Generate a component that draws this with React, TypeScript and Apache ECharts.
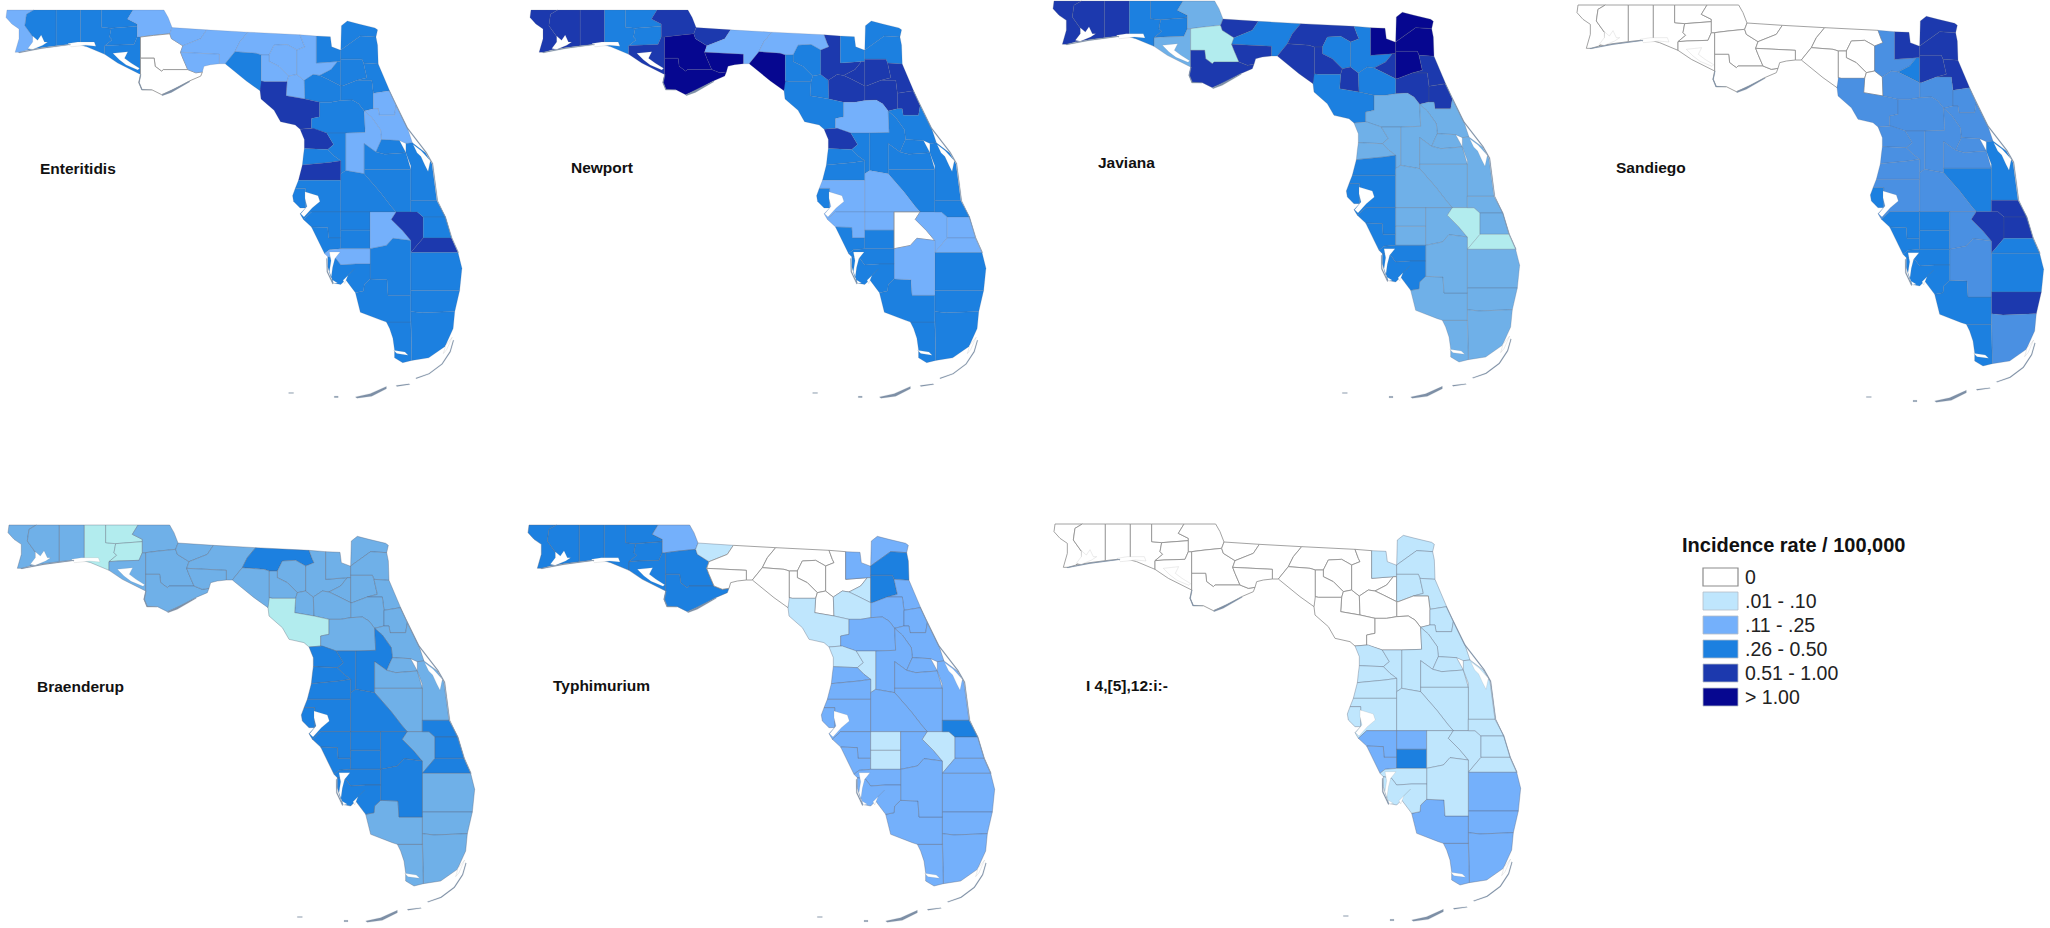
import React, { useEffect, useRef } from "react";
import * as echarts from "echarts";

// ---------- county rate classes: 0 = 0, 1 = .01-.10, 2 = .11-.25, 3 = .26-.50, 4 = .51-1.00, 5 = >1.00
const countyNames = [
  "Escambia","Santa Rosa","Okaloosa","Walton","Holmes","Washington","Bay","Jackson","Calhoun-Liberty","Gulf-Franklin",
  "Gadsden","Leon","Wakulla","Madison-Hamilton","Taylor","Suwannee","Lafayette","Gilchrist","Columbia","Baker",
  "Union-Bradford","Nassau","Duval","Clay","St. Johns","Putnam","Flagler","Alachua","Dixie-Levy","Marion",
  "Volusia","Lake","Seminole","Orange","Brevard","Osceola","Hernando","Sumter","Pasco","Hillsborough North",
  "Hillsborough","Polk","Manatee","Sarasota","Hardee","DeSoto","Highlands","Okeechobee","Indian River","St. Lucie",
  "Martin","Palm Beach","Broward","Dade","Monroe","Collier","Hendry","Charlotte","Lee","Pinellas",
];
const enteritidis = [2,3,3,3,3,3,3,2,0,0, 2,2,2,2,3,2,2,2,2,3, 3,3,3,3,3,3,2,3,4,3, 2,2,3,3,3,3,4,3,3,4, 3,3,3,3,3,3,2,4,3,3, 4,3,3,3,3,3,3,2,3,3];
const newport =     [4,4,4,3,3,3,4,4,5,5, 4,2,5,2,5,3,3,3,4,3, 4,3,3,4,4,4,4,4,3,2, 3,3,3,3,3,3,4,3,3,3, 2,2,2,3,2,3,0,2,3,2, 2,3,3,3,3,3,2,3,3,3];
const javiana =     [4,4,4,3,3,3,2,2,1,4, 4,3,4,4,4,3,4,4,3,5, 4,5,5,5,4,4,4,3,3,2, 2,2,2,2,2,2,2,2,2,3, 3,2,3,3,2,2,2,1,2,2, 1,2,2,2,2,2,2,3,3,3];
const sandiego =    [0,0,0,0,0,0,0,0,0,0, 0,0,0,0,0,0,0,0,2,4, 3,4,4,4,4,2,2,2,2,2, 2,2,2,2,3,3,2,2,2,2, 2,2,3,3,3,3,2,4,4,4, 3,3,4,2,3,3,2,3,3,3];
const braenderup =  [2,2,2,1,1,1,2,2,2,2, 2,2,2,3,2,2,2,2,2,2, 2,2,2,2,2,2,2,2,1,2, 2,3,2,2,2,2,3,3,3,3, 3,3,3,3,3,3,3,2,3,3, 3,2,2,2,2,2,3,3,3,3];
const typhimurium = [3,3,3,3,3,3,3,2,3,3, 1,0,0,0,0,0,0,0,0,2, 1,2,3,3,2,2,2,1,1,2, 2,2,2,2,2,2,1,1,2,2, 2,2,2,2,1,1,2,1,3,2, 2,2,2,2,2,2,2,2,2,2];
const i4512 =       [0,0,0,0,0,0,0,0,0,0, 0,0,0,0,0,0,0,0,0,1, 0,1,1,1,1,0,1,0,0,0, 1,1,1,1,1,1,1,1,1,1, 1,1,2,2,2,3,1,1,1,1, 1,2,2,2,2,2,1,1,1,1];

// ---------- legend
const legendTitle = "Incidence rate / 100,000";
const legendLabels = ["0", ".01 - .10", ".11 - .25", ".26 - 0.50", "0.51 - 1.00", "> 1.00"];
const classColors = ["#ffffff", "#bfe6fd", "#74b0fb", "#1c80e0", "#1c39ae", "#060790"];

// ---------- hand-traced simplified county outlines (image units)
const outlines: Record<string, string> = {
  "Escambia": "45,42 127,42 105,55 100,90 125,125 128,150 108,165 85,172 70,172 82,130 82,100 60,85 42,65",
  "Santa Rosa": "127,42 196,42 196,152 150,158 108,165 128,150 125,125 100,90 105,55",
  "Okaloosa": "196,42 271,42 271,130 271,150 240,147 196,152",
  "Walton": "271,42 335,42 335,95 365,98 360,125 368,133 345,152 345,178 290,155 271,150",
  "Holmes": "335,42 432,42 415,70 445,85 445,92 365,98 335,95",
  "Washington": "365,98 445,92 445,125 435,148 372,150 345,152 368,133 360,125",
  "Bay": "345,152 372,150 435,148 445,125 455,125 455,240 385,205 345,178",
  "Jackson": "432,42 527,42 540,65 552,96 545,115 495,120 455,125 445,125 445,85 415,70",
  "Calhoun-Liberty": "455,125 495,120 545,115 550,130 585,152 578,172 585,190 600,225 525,225 520,230 500,215 497,190 455,190",
  "Gulf-Franklin": "455,190 497,190 500,215 520,230 525,225 600,225 625,235 645,232 640,245 605,260 560,285 520,302 490,287 460,287 450,265 455,240",
  "Gadsden": "552,96 658,103 640,130 585,152 550,130 545,115",
  "Leon": "658,103 785,110 760,140 745,170 715,207 697,207 697,178 578,172 585,152 640,130",
  "Wakulla": "578,172 697,178 697,207 670,210 650,215 645,232 625,235 600,225 585,190",
  "Madison-Hamilton": "785,110 945,118 955,145 960,155 935,165 905,148 865,150 850,180 826,180 810,175 745,170 760,140",
  "Taylor": "745,170 810,175 826,180 826,260 835,262 822,290 780,260 715,207",
  "Suwannee": "850,180 865,150 905,148 935,165 935,240 910,245 880,215 850,200",
  "Lafayette": "826,180 850,180 850,200 880,215 910,245 905,262 835,262 826,260",
  "Gilchrist": "905,262 910,245 935,240 958,258 960,315 902,305",
  "Columbia": "945,118 995,122 995,205 1060,200 1040,225 1005,243 985,240 958,258 935,240 935,165 960,155 955,145",
  "Baker": "995,122 1038,124 1042,155 1068,165 1070,165 1070,194 1070,200 1060,200 995,205",
  "Union-Bradford": "1060,200 1070,200 1070,275 1030,255 1005,243 1040,225",
  "Nassau": "1070,165 1072,90 1090,76 1125,85 1175,97 1183,103 1178,125 1130,122",
  "Duval": "1070,165 1130,122 1178,125 1183,150 1185,208 1140,205 1135,193 1070,193",
  "Clay": "1070,193 1135,193 1140,205 1150,250 1120,258 1075,275 1070,275",
  "St. Johns": "1140,205 1185,208 1220,290 1170,298 1165,258 1120,258 1150,250",
  "Putnam": "1075,275 1120,258 1165,258 1170,298 1170,345 1142,352 1125,330 1105,318 1070,320 1070,275",
  "Flagler": "1170,298 1220,290 1240,335 1235,365 1188,365 1185,345 1170,345",
  "Alachua": "958,258 985,240 1005,243 1030,255 1070,275 1070,320 1040,325 1005,325 960,315",
  "Dixie-Levy": "826,260 835,262 905,262 902,305 960,315 1005,325 1005,370 980,375 980,405 945,408 930,395 885,385 865,350 825,315 822,290",
  "Marion": "1005,325 1040,325 1070,320 1105,318 1125,330 1142,352 1145,418 1085,420 1027,420 980,405 980,375 1005,370",
  "Volusia": "1142,352 1170,345 1185,345 1188,365 1235,365 1240,335 1275,405 1290,450 1270,452 1250,443 1195,440 1192,410 1165,372",
  "Lake": "1085,420 1145,418 1142,352 1165,372 1192,410 1195,440 1185,462 1178,478 1142,452 1142,545 1085,535",
  "Seminole": "1195,440 1250,443 1270,480 1205,485 1178,478 1185,462",
  "Orange": "1142,452 1178,478 1205,485 1270,480 1285,532 1142,532",
  "Brevard": "1270,452 1290,450 1330,480 1350,515 1365,628 1285,628 1285,520 1270,480",
  "Osceola": "1142,532 1285,532 1285,662 1240,662 1225,645 1190,600 1142,545",
  "Hernando": "945,408 985,405 1027,420 1048,455 1030,470 958,467 958,440",
  "Sumter": "1027,420 1085,420 1085,535 1070,545 1070,505 1050,490 1030,470 1048,455",
  "Pasco": "958,467 1030,470 1050,490 1070,505 1035,510 952,518 955,490",
  "Hillsborough North": "952,518 1035,510 1070,505 1070,565 940,565",
  "Hillsborough": "940,565 1070,565 1070,662 980,662 955,685 945,668 962,650 962,590 930,590",
  "Pinellas": "930,590 962,590 962,650 945,650 925,630 922,612",
  "Polk": "1070,545 1085,535 1142,545 1190,600 1225,645 1240,662 1070,662 1070,565",
  "Manatee": "955,685 980,662 1070,662 1070,742 1032,742 1030,710 980,708",
  "Sarasota": "980,708 1030,710 1032,742 1070,742 1070,775 1035,778 1020,790",
  "Hardee": "1070,662 1160,662 1160,718 1070,718",
  "DeSoto": "1070,718 1160,718 1160,775 1070,775",
  "Highlands": "1160,662 1240,662 1225,685 1260,720 1285,750 1230,743 1210,765 1160,775",
  "Okeechobee": "1240,662 1285,662 1305,662 1323,678 1323,742 1285,787 1285,750 1260,720 1225,685",
  "Indian River": "1285,628 1365,628 1392,678 1323,678 1305,662 1285,662",
  "St. Lucie": "1323,678 1392,678 1410,742 1323,742",
  "Martin": "1285,787 1323,742 1410,742 1430,787",
  "Palm Beach": "1285,787 1430,787 1442,835 1435,903 1285,903",
  "Broward": "1285,903 1435,903 1420,968 1320,972 1285,968",
  "Dade": "1285,968 1320,972 1420,968 1415,1020 1390,1075 1340,1110 1288,1118",
  "Monroe": "1210,1000 1285,1000 1288,1118 1260,1125 1235,1110 1235,1085 1230,1050 1220,1020",
  "Collier": "1142,885 1160,868 1212,870 1215,918 1285,918 1285,1000 1210,1000 1195,995 1130,970 1115,910 1140,905",
  "Hendry": "1160,775 1210,765 1230,743 1285,750 1285,918 1215,918 1212,870 1160,868",
  "Charlotte": "1020,790 1035,778 1070,775 1160,775 1160,822 1115,822 1070,825 1055,805 1030,800",
  "Lee": "1070,825 1115,822 1160,822 1160,868 1142,885 1140,905 1115,910 1085,870 1070,885 1045,880 1030,830 1030,800 1055,805",
};
const waters: Record<string, string> = {
  "Pensacola Bay": "109,160 124,140 124,122 139,135 150,119 160,140 170,140 155,150 124,163",
  "Choctawhatchee Bay": "232,145 262,140 313,140 318,153 287,150 262,153 242,155",
  "St Andrew Bay": "370,175 416,170 406,190 426,205 452,221 447,226 411,211 390,195",
  "Tampa Bay": "960,600 1000,612 1006,630 982,650 957,678 947,668 966,645 960,620",
  "Charlotte Harbor": "1035,785 1068,785 1052,805 1045,832 1040,868 1060,880 1048,882 1035,845 1040,812",
  "Caloosahatchee": "1077,872 1112,837 1092,857 1082,882",
  "Indian River Lagoon": "1292,455 1317,474 1345,505 1338,538 1328,518 1316,492 1304,480",
  "Biscayne Bay": "1412,1047 1392,1072 1385,1097 1395,1085",
  "Florida Bay": "1232,1087 1267,1092 1277,1102 1242,1097",
};
const shorelines: Record<string, string> = {
  "Upper Keys": "1300,1172 1340,1158 1380,1128 1405,1090 1415,1055 1417,1057 1407,1092 1382,1130 1342,1160 1302,1174",
  "Middle Keys": "1240,1195 1280,1190 1282,1192 1242,1198",
  "Lower Keys": "1115,1230 1160,1220 1210,1198 1210,1205 1165,1228 1120,1234",
  "Dry Tortugas": "910,1217 925,1217 925,1219 910,1219",
  "Marquesas": "1050,1228 1062,1228 1062,1232 1050,1232",
  "Santa Rosa Island": "80,172 150,158 240,147 240,149 150,161 82,174",
  "St George Island": "520,302 545,290 605,260 607,262 550,295 522,305",
  "Cape San Blas": "455,240 449,265 458,288 490,288 460,285 452,265 457,240",
  "Sanibel": "1028,805 1030,845 1047,882 1045,884 1027,846 1026,805",
  "Atlantic Barrier": "1220,290 1275,403 1333,478 1353,513 1368,628 1392,678 1412,742 1432,787 1430,787 1410,742 1390,678 1366,628 1351,515 1331,480 1273,405 1218,290",
};

const panels = [
  { label: "Enteritidis", classes: enteritidis, left: 6, top: 10, scale: 0.977, labelX: 40, labelY: 168, lineAlpha: 0.25, lightOverride: null, paleOverride: null },
  { label: "Newport", classes: newport, left: 530, top: 10, scale: 0.977, labelX: 571, labelY: 167, lineAlpha: 0.25, lightOverride: null, paleOverride: null },
  { label: "Javiana", classes: javiana, left: 1053, top: 1, scale: 1, labelX: 1098, labelY: 162, lineAlpha: 0.35, lightOverride: "#6fb0e8", paleOverride: "#b2ecee" },
  { label: "Sandiego", classes: sandiego, left: 1577, top: 5, scale: 1, labelX: 1616, labelY: 167, lineAlpha: 0.3, lightOverride: "#4a90e2", paleOverride: null },
  { label: "Braenderup", classes: braenderup, left: 8, top: 525, scale: 1, labelX: 37, labelY: 686, lineAlpha: 0.5, lightOverride: "#6fb0e8", paleOverride: "#b2ecee" },
  { label: "Typhimurium", classes: typhimurium, left: 528, top: 525, scale: 1, labelX: 553, labelY: 685, lineAlpha: 0.5, lightOverride: null, paleOverride: null },
  { label: "I 4,[5],12:i:-", classes: i4512, left: 1054, top: 524, scale: 1, labelX: 1086, labelY: 685, lineAlpha: 0.5, lightOverride: null, paleOverride: null },
];

const toRing = (s: string) => {
  const ring = s.split(" ").map((p) => {
    const [x, y] = p.split(",").map(Number);
    return [x, -y];
  });
  ring.push(ring[0]);
  return ring;
};

const feature = (name: string, s: string) => ({
  type: "Feature",
  properties: { name },
  geometry: { type: "Polygon", coordinates: [toRing(s)] },
});

const geoJson = {
  type: "FeatureCollection",
  features: [
    ...countyNames.map((n) => feature(n, outlines[n])),
    ...Object.keys(waters).map((n) => feature(n, waters[n])),
    ...Object.keys(shorelines).map((n) => feature(n, shorelines[n])),
  ],
};

const GEO_W = 1400 / 3;
const GEO_H = 1192 / 3;
const TEXT_FONT = '"Liberation Sans", Arial, sans-serif';

export default function App() {
  const ref = useRef<HTMLDivElement>(null);
  useEffect(() => {
    if (!ref.current) return;
    const chart = echarts.init(ref.current, undefined, { renderer: "svg" });
    const series = panels.map((p, i) => {
      const mapName = "florida" + i;
      echarts.registerMap(mapName, geoJson as any);
      const colorOf = (c: number) =>
        c === 2 && p.lightOverride ? p.lightOverride : c === 1 && p.paleOverride ? p.paleOverride : classColors[c];
      const counties = countyNames.map((name, k) => ({
        name,
        value: p.classes[k],
        itemStyle: {
          areaColor: colorOf(p.classes[k]),
          color: colorOf(p.classes[k]),
          borderColor: p.classes[k] === 0 ? "#8c8c8c" : `rgba(85,95,115,${p.lineAlpha})`,
          borderWidth: p.classes[k] === 0 ? 0.8 : 0.7,
        },
      }));
      const waterItems = Object.keys(waters).map((name) => ({
        name,
        value: -1,
        itemStyle: { areaColor: "#ffffff", color: "#ffffff", borderColor: "rgba(120,120,120,0.35)", borderWidth: 0.4 },
      }));
      const shoreItems = Object.keys(shorelines).map((name) => ({
        name,
        value: -1,
        itemStyle: { areaColor: "#7d8fa6", color: "#7d8fa6", borderColor: "#8a97a8", borderWidth: 0.2 },
      }));
      return {
        type: "map",
        map: mapName,
        aspectScale: 1,
        left: p.left,
        top: p.top,
        width: GEO_W * p.scale,
        height: GEO_H * p.scale,
        roam: false,
        silent: true,
        selectedMode: false,
        label: { show: false },
        emphasis: { disabled: true },
        data: [...counties, ...waterItems, ...shoreItems],
      };
    });

    const legendX = 1703;
    const legendY = 568;
    const rowGap = 24;
    const graphics: any[] = [
      ...panels.map((p) => ({
        type: "text",
        x: p.labelX,
        y: p.labelY,
        style: { text: p.label, font: `bold 15.5px ${TEXT_FONT}`, fill: "#111111", textVerticalAlign: "middle" },
      })),
      {
        type: "text",
        x: 1682,
        y: 545,
        style: { text: legendTitle, font: `bold 20px ${TEXT_FONT}`, fill: "#111111", textVerticalAlign: "middle" },
      },
      ...legendLabels.flatMap((t, i) => [
        {
          type: "rect",
          shape: { x: legendX, y: legendY + i * rowGap, width: 35, height: 18 },
          style: { fill: classColors[i], stroke: i === 0 ? "#8c8c8c" : "#b5bcc6", lineWidth: i === 0 ? 1.2 : 0.8 },
        },
        {
          type: "text",
          x: legendX + 42,
          y: legendY + i * rowGap + 9,
          style: { text: t, font: `19.5px ${TEXT_FONT}`, fill: "#222222", textVerticalAlign: "middle" },
        },
      ]),
    ];

    chart.setOption({
      animation: false,
      backgroundColor: "#ffffff",
      tooltip: { show: false },
      series,
      graphic: { elements: graphics },
    });
    return () => chart.dispose();
  }, []);
  return (
    <div style={{ position: "fixed", left: 0, top: 0, width: 2050, height: 928, background: "#fff" }}>
      <div ref={ref} style={{ width: 2050, height: 928 }} />
    </div>
  );
}
